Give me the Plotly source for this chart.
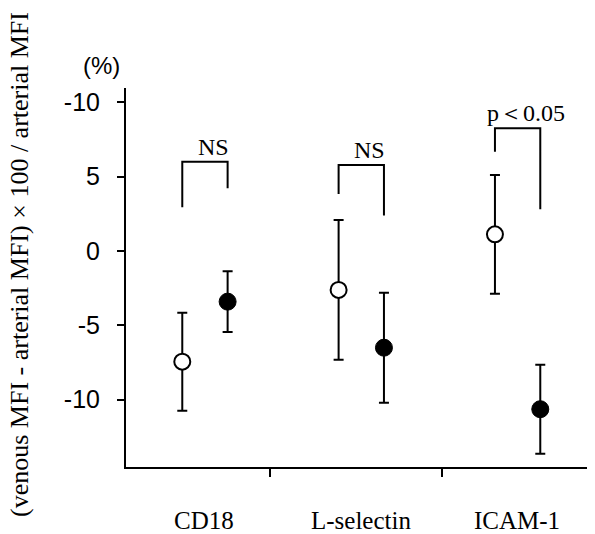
import plotly.graph_objects as go

categories = ["CD18", "L-selectin", "ICAM-1"]
open_mean = [-7.45, -2.62, 1.12]
open_err = [3.3, 4.7, 4.0]
filled_mean = [-3.41, -6.51, -10.65]
filled_err = [2.05, 3.7, 3.0]
sig_labels = ["NS", "NS", "p＜0.05"]
bracket_top = [6.01, 5.79, 8.26]
bracket_left_end = [2.94, 3.84, 6.68]
bracket_right_end = [4.22, 2.38, 2.81]
sig_label_y = [7.0, 6.8, 9.3]
ytick_vals = [-10, -5, 0, 5, 10]
ytick_text = ["-10", "-5", "0", "5", "-10"]

open_off = -0.14
filled_off = 0.15
xs = list(range(len(categories)))
x_open = [i + open_off for i in xs]
x_filled = [i + filled_off for i in xs]

SERIF = "Liberation Serif, Times New Roman, serif"
SANS = "Liberation Sans, Arial, sans-serif"

fig = go.Figure()
fig.add_trace(go.Scatter(
    x=x_open, y=open_mean, mode="markers",
    marker=dict(symbol="circle", size=16, color="white", line=dict(color="black", width=2)),
    error_y=dict(type="data", array=open_err, visible=True, color="black", thickness=2, width=5),
    showlegend=False,
))
fig.add_trace(go.Scatter(
    x=x_filled, y=filled_mean, mode="markers",
    marker=dict(symbol="circle", size=17, color="black", line=dict(color="black", width=1)),
    error_y=dict(type="data", array=filled_err, visible=True, color="black", thickness=2, width=5),
    showlegend=False,
))

shapes = []
annotations = []
for i in xs:
    xl, xr = x_open[i], x_filled[i]
    shapes.append(dict(type="path",
                       path=f"M {xl} {bracket_left_end[i]} L {xl} {bracket_top[i]} L {xr} {bracket_top[i]} L {xr} {bracket_right_end[i]}",
                       xref="x", yref="y", line=dict(color="black", width=2)))
    annotations.append(dict(x=(xl + xr) / 2 + 0.055, y=sig_label_y[i], xref="x", yref="y",
                            text=sig_labels[i], showarrow=False,
                            xanchor="center", yanchor="middle",
                            font=dict(family=SERIF, size=24, color="black")))
    annotations.append(dict(x=i, y=-0.14, xref="x", yref="paper", text=categories[i],
                            showarrow=False, xanchor="center", yanchor="middle",
                            font=dict(family=SERIF, size=25, color="black")))

annotations.append(dict(x=-0.226, y=0.533, xref="paper", yref="paper",
                        text="(venous MFI - arterial MFI) × 100 / arterial MFI",
                        textangle=-90, showarrow=False,
                        xanchor="center", yanchor="middle",
                        font=dict(family=SERIF, size=26, color="black")))
annotations.append(dict(x=-0.053, y=1.06, xref="paper", yref="paper", text="(%)",
                        showarrow=False, xanchor="center", yanchor="middle",
                        font=dict(family=SANS, size=24, color="black")))

fig.update_layout(
    width=587, height=526,
    margin=dict(l=118, r=0, t=80, b=67),
    paper_bgcolor="white", plot_bgcolor="white",
    shapes=shapes, annotations=annotations,
    xaxis=dict(range=[-0.5, 2.5], showgrid=False, zeroline=False,
               showline=True, linecolor="black", linewidth=2,
               tickvals=[0.42, 1.52], ticktext=["", ""],
               ticks="outside", ticklen=8, tickwidth=2, tickcolor="black"),
    yaxis=dict(range=[-14.54, 10.97], showgrid=False, zeroline=False,
               showline=True, linecolor="black", linewidth=2,
               tickvals=ytick_vals, ticktext=ytick_text,
               ticks="outside", ticklen=7, tickwidth=2, tickcolor="black",
               ticklabelstandoff=12,
               tickfont=dict(family=SANS, size=25, color="black")),
)

fig.write_html("out.html")
